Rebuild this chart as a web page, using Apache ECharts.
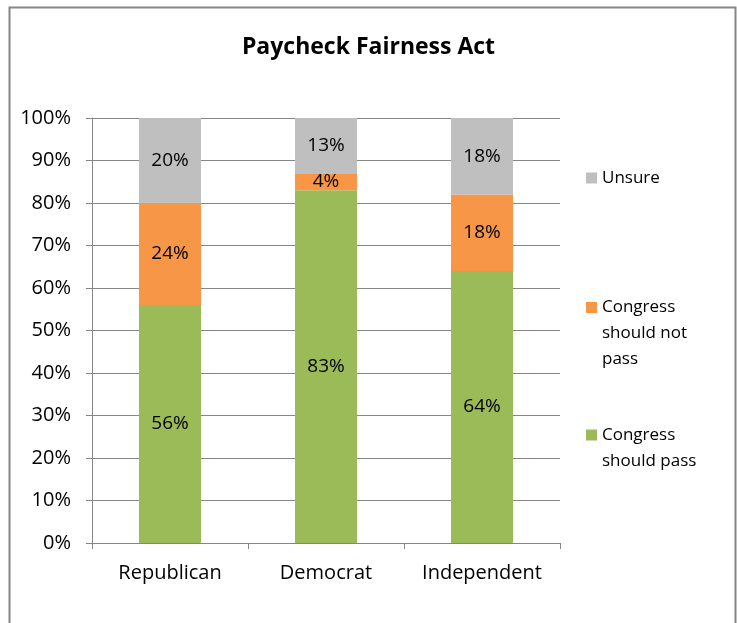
<!DOCTYPE html>
<html>
<head>
<meta charset="utf-8">
<script src="https://cdn.jsdelivr.net/npm/echarts@6/dist/echarts.min.js"></script>
<style>
html,body{margin:0;padding:0;background:#fff;}
#c{width:737px;height:623px;}
</style>
</head>
<body>
<div id="c"></div>
<script>
const categories = ['Republican', 'Democrat', 'Independent'];
const shouldPass = [56, 83, 64];
const shouldNotPass = [24, 4, 18];
const unsure = [20, 13, 18];
const seriesNames = ['Congress should pass', 'Congress should not pass', 'Unsure'];
const legendLines = {
  'Unsure': ['Unsure'],
  'Congress should not pass': ['Congress', 'should not', 'pass'],
  'Congress should pass': ['Congress', 'should pass']
};

const FONT = '"Open Sans", "Liberation Sans", sans-serif';
const LH = 26;
// icon is centred on the text block: pad with blank lines above so the icon sits on the first line
function legendFor(name, iconCenterY) {
  const lines = legendLines[name];
  const n = lines.length;
  const total = 2 * n - 1;
  const top = iconCenterY - total * LH / 2;
  return {
    orient: 'vertical',
    left: 586,
    top: top,
    padding: 0,
    itemWidth: 11,
    itemHeight: 11,
    itemGap: 0,
    icon: 'rect',
    selectedMode: false,
    data: [name],
    textStyle: {fontFamily: FONT, fontSize: 17, color: '#000', lineHeight: LH},
    formatter: nm => {
      const ls = legendLines[nm];
      return new Array(ls.length - 1).fill(' ').concat(ls).join('\n');
    }
  };
}

const labelCfg = {
  show: true, position: 'inside', color: '#000',
  fontFamily: FONT, fontSize: 19, formatter: '{c}%'
};

const chart = echarts.init(document.getElementById('c'), null, {renderer: 'canvas'});
chart.setOption({
  animation: false,
  backgroundColor: '#fff',
  title: {
    text: 'Paycheck Fairness Act',
    left: 'center', top: 31,
    textStyle: {fontFamily: FONT, fontSize: 23, fontWeight: 'bold', color: '#000'}
  },
  graphic: [{
    type: 'rect', left: 7, top: 5, z: -1,
    shape: {width: 726, height: 640},
    style: {fill: 'none', stroke: '#868686', lineWidth: 2}
  }],
  legend: [
    legendFor('Unsure', 178),
    legendFor('Congress should not pass', 307.5),
    legendFor('Congress should pass', 435)
  ],
  grid: {left: 92, right: 177, top: 118, bottom: 80},
  xAxis: {
    type: 'category', data: categories,
    axisLine: {show: true, lineStyle: {color: '#868686', width: 1}},
    axisTick: {show: true, length: 6, lineStyle: {color: '#868686'}},
    axisLabel: {fontFamily: FONT, fontSize: 20, color: '#000', margin: 20}
  },
  yAxis: {
    type: 'value', min: 0, max: 100, interval: 10,
    axisLine: {show: true, lineStyle: {color: '#868686', width: 1}},
    axisTick: {show: true, length: 6, lineStyle: {color: '#868686'}},
    axisLabel: {fontFamily: FONT, fontSize: 20, color: '#000', formatter: '{value}%', margin: 21},
    splitLine: {show: true, lineStyle: {color: '#868686', width: 1}}
  },
  series: [
    {name: seriesNames[0], type: 'bar', stack: 't', data: shouldPass, barWidth: 62,
      itemStyle: {color: '#9BBB59'}, label: labelCfg},
    {name: seriesNames[1], type: 'bar', stack: 't', data: shouldNotPass, barWidth: 62,
      itemStyle: {color: '#F79646'}, label: labelCfg},
    {name: seriesNames[2], type: 'bar', stack: 't', data: unsure, barWidth: 62,
      itemStyle: {color: '#BFBFBF'}, label: labelCfg}
  ]
});
</script>
</body>
</html>
